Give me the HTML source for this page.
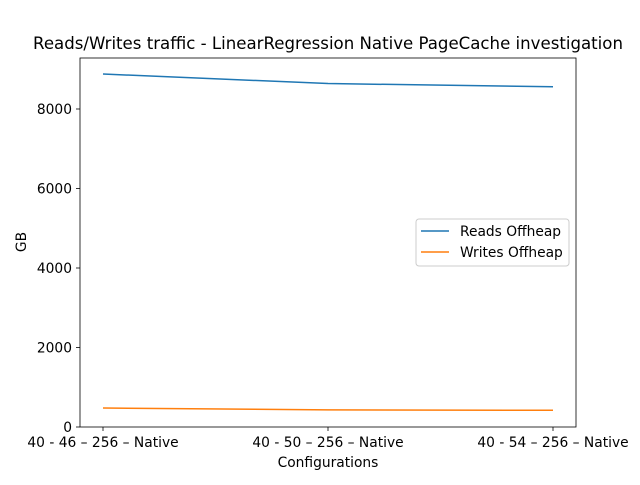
<!DOCTYPE html>
<html><head><meta charset="utf-8"><style>
body{margin:0;background:#fff}
svg text{font-family:"DejaVu Sans","Liberation Sans",sans-serif;fill:#000}
</style></head><body>
<svg id="chart" width="640" height="480" xmlns="http://www.w3.org/2000/svg">
<rect width="640" height="480" fill="#fff"/>
<text x="328" y="49" font-size="16.6" text-anchor="middle">Reads/Writes traffic - LinearRegression Native PageCache investigation</text>
<g id="plot"></g>
<rect x="80" y="58" width="496" height="369" fill="none" stroke="#000" stroke-width="0.8"/>
<text x="328" y="467" font-size="13.8" text-anchor="middle">Configurations</text>
<text x="26" y="242" font-size="13.8" text-anchor="middle" transform="rotate(-90 26 242)">GB</text>
<g>
<rect x="416" y="219" width="153" height="47" rx="3" fill="#fff" stroke="#ccc"/>
<line x1="421" y1="231" x2="449" y2="231" stroke="#1f77b4" stroke-width="1.5"/>
<text x="460" y="236" font-size="13.8">Reads Offheap</text>
<line x1="421" y1="252" x2="449" y2="252" stroke="#ff7f0e" stroke-width="1.5"/>
<text x="460" y="257" font-size="13.8">Writes Offheap</text>
</g>
</svg>
<script>
const categories=["40 - 46 – 256 – Native","40 - 50 – 256 – Native","40 - 54 – 256 – Native"];
const readsOffheap=[8880,8640,8560];
const writesOffheap=[478,430,420];
const yTicks=[0,2000,4000,6000,8000];
const NS="http://www.w3.org/2000/svg";
const g=document.getElementById("plot");
const xS=i=>103+i*225;
const yS=v=>427-v*(369/9283);
function mk(t,a){const e=document.createElementNS(NS,t);for(const k in a)e.setAttribute(k,a[k]);g.appendChild(e);return e;}
yTicks.forEach(v=>{
 const t=mk("line",{x1:76,x2:80,y1:yS(v),y2:yS(v),stroke:"#000","stroke-width":0.8});
 
 
 const l=mk("text",{x:72,y:yS(v)+5,"font-size":13.8,"text-anchor":"end"});l.textContent=v;
 
 
});
categories.forEach((c,i)=>{
 const t=mk("line",{x1:xS(i),x2:xS(i),y1:427,y2:431,stroke:"#000","stroke-width":0.8});
 
 
 const l=mk("text",{x:xS(i),y:447,"font-size":13.8,"text-anchor":"middle"});l.textContent=c;
 
 
});
[[readsOffheap,"#1f77b4","reads-line"],[writesOffheap,"#ff7f0e","writes-line"]].forEach(([d,col,n])=>{
 const p=mk("polyline",{points:d.map((v,i)=>xS(i)+","+yS(v)).join(" "),fill:"none",stroke:col,"stroke-width":1.5});
 
 
});
</script>
</body></html>
